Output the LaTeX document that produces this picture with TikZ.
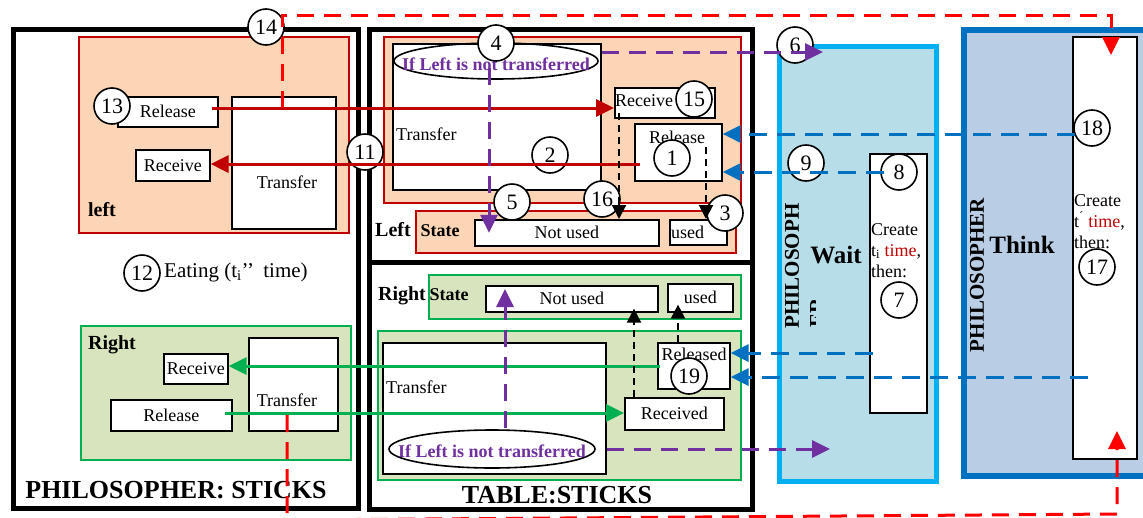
\documentclass[tikz,border=0pt]{standalone}
\usepackage{fontspec}
\setmainfont{Liberation Serif}
\usetikzlibrary{arrows.meta,shapes.geometric,calc}
\definecolor{peach}{HTML}{FBD5B5}
\definecolor{dkred}{HTML}{C00000}
\definecolor{leaf}{HTML}{D7E4BD}
\definecolor{grn}{HTML}{00B050}
\definecolor{skyfill}{HTML}{B7DDE8}
\definecolor{sky}{HTML}{00B0F0}
\definecolor{steelfill}{HTML}{B9CDE5}
\definecolor{steel}{HTML}{0070C0}
\definecolor{violet}{HTML}{7030A0}
\definecolor{brightred}{HTML}{FF0000}

\begin{document}
\begin{tikzpicture}[x=1pt,y=-1pt,
  txt/.style={font=\fontsize{18}{21}\selectfont, inner sep=0},
  lbl/.style={font=\bfseries\fontsize{20}{22}\selectfont, inner sep=0},
  statelbl/.style={font=\bfseries\fontsize{18}{20}\selectfont, inner sep=0},
  biglbl/.style={font=\bfseries\fontsize{26}{28}\selectfont, inner sep=0},
  modelbl/.style={font=\bfseries\fontsize{25}{27}\selectfont, inner sep=0},
  sidelbl/.style={rotate=90, font=\bfseries\fontsize{21}{23}\selectfont, inner sep=0},
  condlbl/.style={font=\bfseries\fontsize{18}{20}\selectfont, text=violet, inner sep=0},
  boxy/.style={draw, line width=1.6pt, fill=white, inner sep=0, anchor=north west, font=\fontsize{18}{21}\selectfont},
  outerframe/.style={draw, line width=5pt, inner sep=0, anchor=north west},
  peachpanel/.style={draw=dkred, fill=peach, line width=1.6pt, inner sep=0, anchor=north west},
  leafpanel/.style={draw=grn, fill=leaf, line width=1.6pt, inner sep=0, anchor=north west},
  cond/.style={draw, ellipse, line width=1.6pt, inner sep=0},
  num/.style={circle, draw, fill=white, line width=1.6pt, minimum size=36pt, inner sep=0, font=\fontsize{22}{24}\selectfont},
  arrowhd/.style={-{Triangle[length=18pt,width=17pt]}},
  redline/.style={arrowhd, draw=dkred, line width=3pt},
  reddash/.style={arrowhd, draw=brightred, line width=3pt, dash pattern=on 17pt off 10pt},
  grnline/.style={arrowhd, draw=grn, line width=3pt},
  purpdash/.style={arrowhd, draw=violet, line width=3pt, dash pattern=on 17pt off 10pt},
  bluedash/.style={arrowhd, draw=steel, line width=3pt, dash pattern=on 18pt off 10pt},
  blkdash/.style={-{Triangle[length=14pt,width=14pt]}, draw=black, line width=2pt, dash pattern=on 7pt off 5pt}
]
\useasboundingbox (0,0) rectangle (1143,517);
\fill[white] (0,0) rectangle (1143,517);
\clip (0,0) rectangle (1143,517);

% ---------- PHILOSOPHER: STICKS ----------
\node[outerframe, minimum width=345.5pt, minimum height=479pt] (phil) at (10.5,27) {};
\node[peachpanel, minimum width=270pt, minimum height=196pt] (lpan) at (78,36) {};
\node[leafpanel, minimum width=270pt, minimum height=134pt] (rpan) at (80,325) {};
\node[boxy, minimum width=100pt, minimum height=30pt] (relL) at (117,96) {Release};
\node[boxy, minimum width=74pt, minimum height=31pt] (recL) at (135,149) {Receive};
\node[boxy, minimum width=104pt, minimum height=132pt] (trL) at (231,96) {};
\node[txt] (trLt) at (287,182) {Transfer};
\node[lbl] (leftL) at (102,210) {left};
\node[txt, font=\fontsize{21}{24}\selectfont, anchor=west] (eat) at (164,272) {Eating (t\textsubscript{i}’’\hspace{4pt} time)};
\node[lbl] (rightR) at (112,345) {Right};
\node[boxy, minimum width=64pt, minimum height=30pt] (recR) at (163,353) {Receive};
\node[boxy, minimum width=121pt, minimum height=31pt] (relR) at (110,399) {Release};
\node[boxy, minimum width=89pt, minimum height=93pt] (trR) at (248,337) {};
\node[txt] (trRt) at (287,400) {Transfer};
\node[biglbl] (philT) at (176,490) {PHILOSOPHER: STICKS};

% ---------- TABLE:STICKS ----------
\node[outerframe, minimum width=383pt, minimum height=480pt] (table) at (367,27) {};
\draw[line width=5pt] (367,262) -- (750,262);
% left stick
\node[peachpanel, minimum width=357pt, minimum height=166pt] (tlpan) at (383,36) {};
\node[peachpanel, minimum width=320pt, minimum height=42pt] (tlstate) at (415,210) {};
\node[lbl] (leftT) at (393,230) {Left};
\node[statelbl] (stT) at (440,231) {State};
\node[boxy, minimum width=184pt, minimum height=26pt] (nuT) at (474,219) {Not used};
\node[boxy, minimum width=57pt, minimum height=25pt] (usT) at (669,219) {};
\node[txt, anchor=west] (usTt) at (671,232) {used};
\node[boxy, minimum width=208pt, minimum height=146pt] (trT) at (392,43) {};
\node[txt, anchor=west] (trTt) at (396,134) {Transfer};
\node[cond, minimum width=204pt, minimum height=36pt] (ellT) at (496,61) {};
\node[condlbl] (ellTt) at (496,64) {If Left is not transferred};
\node[boxy, minimum width=100pt, minimum height=30pt] (recT) at (614,87) {};
\node[txt, anchor=west] (recTt) at (615,101) {Receive};
\node[boxy, minimum width=87pt, minimum height=57pt] (relT) at (634,123) {};
\node[txt] (relTt) at (677,137) {Release};
% right stick
\node[leafpanel, minimum width=312pt, minimum height=44pt] (trstate) at (428,274) {};
\node[lbl] (rightT) at (402,296) {Right};
\node[statelbl] (stB) at (449,295) {State};
\node[boxy, minimum width=172pt, minimum height=26pt] (nuB) at (485,285) {Not used};
\node[boxy, minimum width=65pt, minimum height=28pt] (usB) at (667,283) {used};
\node[leafpanel, minimum width=363pt, minimum height=149pt] (trpan) at (377,330) {};
\node[boxy, minimum width=223pt, minimum height=131pt] (trB) at (382,342) {};
\node[txt, anchor=west] (trBt) at (386,387) {Transfer};
\node[cond, minimum width=206pt, minimum height=38pt] (ellB) at (492,449) {};
\node[condlbl] (ellBt) at (492,451) {If Left is not transferred};
\node[boxy, minimum width=72pt, minimum height=46pt] (rldB) at (657,342) {};
\node[txt] (rldBt) at (694,354) {Released};
\node[boxy, minimum width=99pt, minimum height=32pt] (rcvB) at (624,397) {Received};
\node[biglbl] (tableT) at (557,495) {TABLE:STICKS};

% ---------- PHILOSOPHER: Wait ----------
\node[draw=sky, fill=skyfill, line width=5pt, anchor=north west, minimum width=157pt, minimum height=435pt, inner sep=0] (wait) at (777,44) {};
\node[boxy, minimum width=57pt, minimum height=259pt] (waitW) at (869,153) {};
\node[modelbl] (waitT) at (836,255) {Wait};
\node[sidelbl] (waitS) at (792,266) {PHILOSOPH};
\begin{scope}
  \clip (800,280) rectangle (815,340);
  \node[sidelbl] (waitS2) at (817,313) {ER};
\end{scope}
\node[txt, anchor=base west] (wc1) at (871,235) {Create};
\node[txt, anchor=base west] (wc2) at (871,256) {t\textsubscript{i} \textcolor{dkred}{time},};
\node[txt, anchor=base west] (wc3) at (871,277) {then:};

% ---------- PHILOSOPHER: Think ----------
\node[draw=steel, fill=steelfill, line width=6pt, anchor=north west, minimum width=200pt, minimum height=446pt, inner sep=0] (think) at (961,27) {};
\node[boxy, minimum width=64pt, minimum height=422pt] (thinkW) at (1072,36) {};
\node[modelbl] (thinkT) at (1022,245) {Think};
\node[sidelbl] (thinkS) at (977,275) {PHILOSOPHER};
\node[txt, anchor=base west] (tc1) at (1074,206) {Create};
\node[txt, anchor=base west] (tc2) at (1074,227) {t\textsuperscript{´} \textcolor{dkred}{time},};
\node[txt, anchor=base west] (tc3) at (1074,248) {then:};

% ---------- step numbers ----------
\node[num] (n1) at (672,158) {1};
\node[num] (n2) at (550,155) {2};
\node[num] (n3) at (725,213) {3};
\node[num] (n4) at (496,43) {4};
\node[num] (n5) at (512,202) {5};
\node[num] (n6) at (795,45) {6};
\node[num] (n7) at (899,300) {7};
\node[num] (n8) at (899,172) {8};
\node[num] (n9) at (806,163) {9};
\node[num] (n11) at (365,152) {11};
\node[num] (n12) at (142,273) {12};
\node[num] (n13) at (112,106) {13};
\node[num] (n14) at (266,27) {14};
\node[num] (n15) at (694,99) {15};
\node[num] (n16) at (602,199) {16};
\node[num] (n17) at (1097,267) {17};
\node[num] (n18) at (1092,128) {18};
\node[num] (n19) at (689,376) {19};

% ---------- connectors ----------
% left stick exchange
\coordinate (a13) at (212,108);
\draw[redline] (a13) -- (a13 -| recT.west);
\coordinate (a2) at (640,164);
\draw[redline] (a2) -- (a2 -| recL.east);
\coordinate (a14) at (282,108);
\coordinate (a14e) at (1111,55);
\draw[reddash] (a14) -- ++(0,-93) -| (a14e);
\coordinate (aR) at (287,415);
\coordinate (aRe) at (1117,431);
\draw[reddash] (aR) -- (287,520) -- (1117,514) -- (aRe);
% right stick exchange
\coordinate (g19) at (660,366);
\draw[grnline] (g19) -- (g19 -| recR.east);
\coordinate (gR) at (225,413);
\draw[grnline] (gR) -- (gR -| rcvB.west);
% conditions
\coordinate (p6) at (823,52);
\draw[purpdash] (p6 -| trT.east) -- (p6);
\coordinate (p5) at (489,68);
\draw[purpdash] (p5) -- (p5 |- nuT.center);
\coordinate (pB) at (505,428);
\draw[purpdash] (pB) -- ($(pB |- nuB.north)+(0,4)$);
\coordinate (pBe) at (830,449);
\draw[purpdash] (pBe -| trB.east) -- (pBe);
% state changes
\coordinate (k16) at (619,113);
\draw[blkdash] (k16) -- (k16 |- nuT.north);
\coordinate (k3) at (706,147);
\draw[blkdash] (k3) -- (k3 |- usT.north);
\coordinate (kB) at (634,397);
\draw[blkdash] (kB) -- ($(kB |- nuB.south)+(0,-4)$);
\coordinate (kU) at (678,342);
\draw[blkdash] (kU) -- ($(kU |- usB.south)+(0,-8)$);
% releases from the philosopher
\coordinate (b18) at (1075,134);
\draw[bluedash] (b18) -- (b18 -| relT.east);
\coordinate (b8) at (884,172);
\draw[bluedash] (b8) -- (b8 -| relT.east);
\coordinate (bW) at (873,353);
\draw[bluedash] (bW) -- (bW -| rldB.east);
\coordinate (bT) at (1088,377);
\draw[bluedash] (bT) -- (bT -| rldB.east);
\end{tikzpicture}
\end{document}
